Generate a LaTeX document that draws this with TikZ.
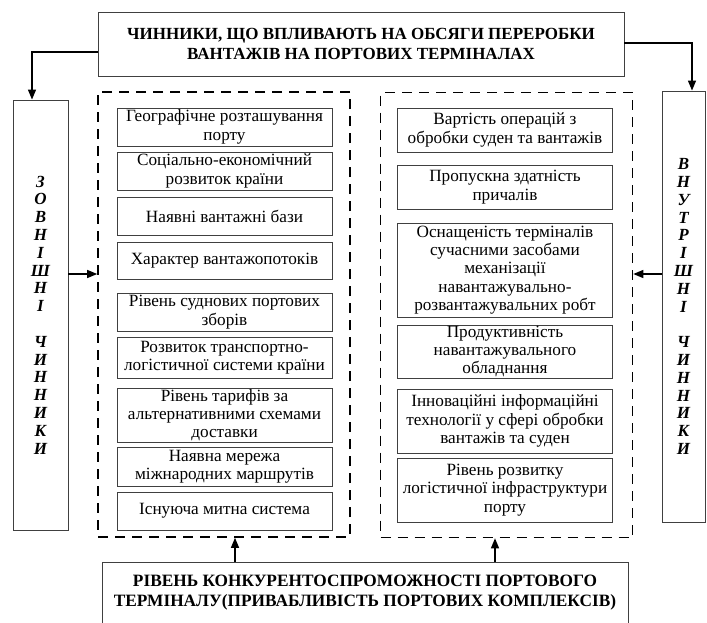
\documentclass[tikz,border=0pt]{standalone}
\usepackage{fontspec}
\setmainfont{Liberation Serif}
\usetikzlibrary{arrows.meta}

\begin{document}
\begin{tikzpicture}[x=1pt,y=-1pt,
  item/.style={draw=black!75,line width=0.8pt,align=center,inner sep=0pt,
    minimum width=215pt,font=\fontsize{17.2}{18.3}\selectfont},
  group/.style={draw,line width=1.6pt,dash pattern=on 10pt off 7pt,minimum width=252pt,minimum height=445pt},
  side/.style={draw=black!75,line width=0.9pt,align=center,inner sep=0pt,
    font=\fontsize{17}{17.8}\selectfont\bfseries\itshape},
  head/.style={draw=black!75,line width=0.9pt,align=center,inner sep=0pt,
    minimum width=526pt,font=\fontsize{17}{19.5}\selectfont\bfseries},
  arr/.style={-{Triangle[length=10pt,width=8pt]},line width=1.3pt}]
\useasboundingbox (0,0) rectangle (707,622);

\node [head, minimum height=64pt] (top) at (361,44)
  {ЧИННИКИ, ЩО ВПЛИВАЮТЬ НА ОБСЯГИ ПЕРЕРОБКИ\\ВАНТАЖІВ НА ПОРТОВИХ ТЕРМІНАЛАХ};
\node [head, minimum height=62pt, font=\fontsize{17.3}{20}\selectfont\bfseries] (lvl) at (365,593)
  {РІВЕНЬ КОНКУРЕНТОСПРОМОЖНОСТІ ПОРТОВОГО\\ТЕРМІНАЛУ(ПРИВАБЛИВІСТЬ ПОРТОВИХ КОМПЛЕКСІВ)};

\node [side, minimum width=55pt, minimum height=430pt] (ext) at (40.5,315)
  {З\\О\\В\\Н\\І\\Ш\\Н\\І\\~\\Ч\\И\\Н\\Н\\И\\К\\И};
\node [side, minimum width=43pt, minimum height=431pt] (int) at (683.5,306.5)
  {В\\Н\\У\\Т\\Р\\І\\Ш\\Н\\І\\~\\Ч\\И\\Н\\Н\\И\\К\\И};

\node [group] (lgrp) at (224,314.5) {};
\node [group] (rgrp) at (506.5,315) {};

\node [item, minimum height=38pt] (l1) at (224.5,127) {Географічне розташування\\порту};
\node [item, minimum height=38pt] (l2) at (224.5,171) {Соціально-економічний\\розвиток країни};
\node [item, minimum height=38pt] (l3) at (224.5,216) {Наявні вантажні бази};
\node [item, minimum height=37pt] (l4) at (224.5,260.5) {Характер вантажопотоків};
\node [item, minimum height=38pt] (l5) at (224.5,312) {Рівень суднових портових\\зборів};
\node [item, minimum height=41pt] (l6) at (224.5,357.5) {Розвиток транспортно-\\логістичної системи країни};
\node [item, minimum height=54pt] (l7) at (224.5,415) {Рівень тарифів за\\альтернативними схемами\\доставки};
\node [item, minimum height=39pt] (l8) at (224.5,466.5) {Наявна мережа\\міжнародних маршрутів};
\node [item, minimum height=38pt] (l9) at (224.5,511) {Існуюча митна система};

\node [item, minimum height=44pt] (r1) at (505,130) {Вартість операцій з\\обробки суден та вантажів};
\node [item, minimum height=44pt] (r2) at (505,187) {Пропускна здатність\\причалів};
\node [item, minimum height=94pt] (r3) at (505,270) {Оснащеність терміналів\\сучасними засобами\\механізації\\навантажувально-\\розвантажувальних робт};
\node [item, minimum height=53pt] (r4) at (505,351.5) {Продуктивність\\навантажувального\\обладнання};
\node [item, minimum height=64pt] (r5) at (505,421) {Інноваційні інформаційні\\технології у сфері обробки\\вантажів та суден};
\node [item, minimum height=64pt] (r6) at (505,490) {Рівень розвитку\\логістичної інфраструктури\\порту};

\draw [arr] ([yshift=-8pt]top.west) -| ([xshift=-8.5pt]ext.north);
\draw [arr] ([yshift=1pt]top.east) -| ([xshift=8.5pt]int.north);
\draw [arr] ([yshift=41pt]ext.east) -- ([yshift=41pt]ext.east -| lgrp.west);
\draw [arr] ([yshift=32.5pt]int.west) -- ([yshift=32.5pt]int.west -| rgrp.east);
\draw [arr] ([xshift=-130pt]lvl.north) -- ([xshift=-130pt]lvl.north |- lgrp.south);
\draw [arr] ([xshift=130pt]lvl.north) -- ([xshift=130pt]lvl.north |- rgrp.south);
\end{tikzpicture}
\end{document}
